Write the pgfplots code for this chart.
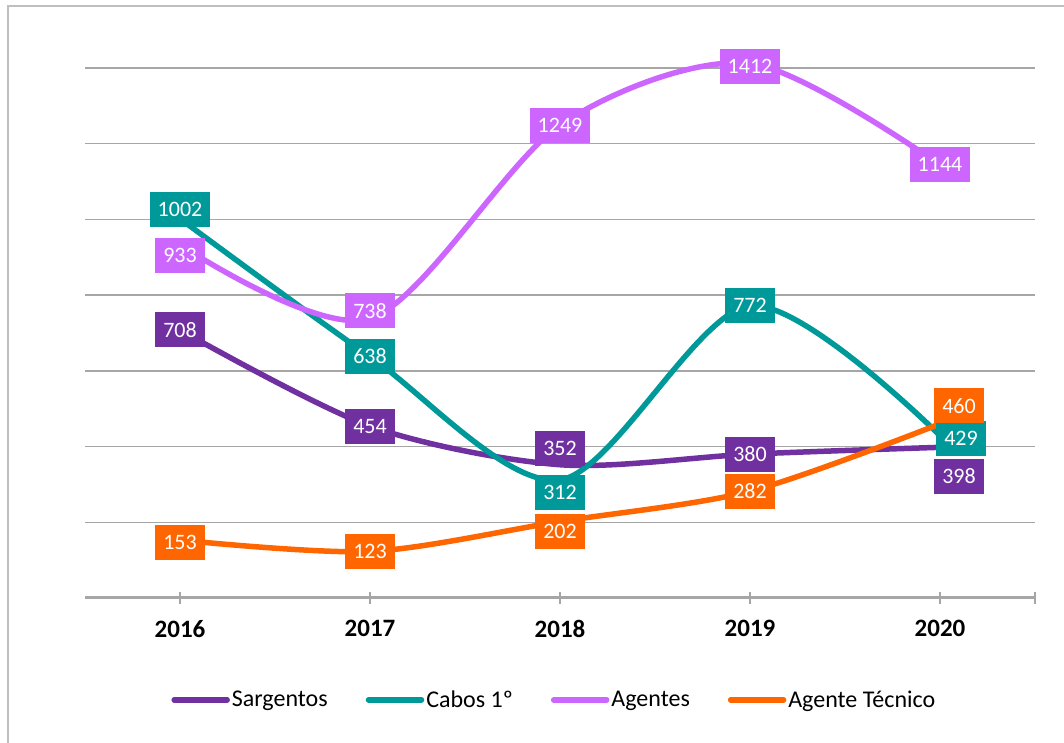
\documentclass[border=0pt]{standalone}
\usepackage{pgfplots}
\usepackage{pgfplotstable}
\pgfplotsset{compat=1.18}
\usepackage{fontspec}
\setmainfont{Carlito}
\definecolor{cSarg}{HTML}{7030A0}
\definecolor{cCabo}{HTML}{009999}
\definecolor{cAgen}{HTML}{CC66FF}
\definecolor{cTec}{HTML}{FF6600}
\definecolor{cGrid}{HTML}{A6A6A6}
\definecolor{cFrame}{HTML}{BFBFBF}

\pgfplotstableread{
x y dx dy
0 708 0 0
1 454 0 0
2 352 0 16
3 380 0 0
4 398 19 -29
}\sarg
\pgfplotstableread{
x y dx dy
0 1002 0 9
1 638 0 0
2 312 0 -13
3 772 0 0
4 429 21 -3
}\cabo
\pgfplotstableread{
x y dx dy
0 933 0 -11
1 738 0 8
2 1249 0 0
3 1412 0 -3
4 1144 0 0
}\agen
\pgfplotstableread{
x y dx dy
0 153 0 -2
1 123 0 0
2 202 0 -10
3 282 0 0
4 460 19 18
}\tecn

\pgfplotsset{
  lab/.style={
    draw=none, mark=none, forget plot,
    nodes near coords, nodes near coords align=center,
    point meta=explicit symbolic,
    visualization depends on={\thisrow{dx}\as\labdx},
    visualization depends on={\thisrow{dy}\as\labdy},
    every node near coord/.append style={
      fill=#1, text=white, font=\fontsize{22}{26}\selectfont,
      inner xsep=8pt, inner ysep=0pt, minimum height=35pt,
      anchor=center, xshift=\labdx pt, yshift=\labdy pt},
  },
}

\begin{document}
\begin{tikzpicture}[x=1pt,y=1pt]
\useasboundingbox (0,0) rectangle (1064,743);
\draw[cFrame, line width=2pt] (7.5,-5) -- (7.5,736.5) -- (1070,736.5);
\begin{axis}[
  at={(85pt,145pt)}, anchor=south west,
  scale only axis, width=950pt, height=530pt,
  xmin=-0.5, xmax=4.5, ymin=0, ymax=1400,
  clip=false,
  axis x line*=bottom, axis y line*=left,
  x axis line style={cGrid, line width=3pt, -},
  y axis line style={draw=none},
  ytick={200,400,...,1400}, yticklabels={},
  ytick style={draw=none},
  ymajorgrids, major grid style={cGrid, line width=1.5pt},
  xtick={0,1,2,3,4},
  xticklabels={2016,2017,2018,2019,2020},
  extra x ticks={4.5}, extra x tick labels={},
  xtick align=center, major tick length=12pt,
  xtick style={cGrid, line width=2.5pt},
  xticklabel style={font=\fontsize{25}{30}\selectfont\bfseries, yshift=-13pt},
  legend columns=4,
  legend style={at={(0.494,-0.192)}, anchor=center, draw=none, fill=none,
    font=\fontsize{24}{28}\selectfont,
    /tikz/every even column/.append style={column sep=36pt},
    nodes={inner xsep=2pt}},
  legend image code/.code={\draw[#1, line width=5.5pt, line cap=round] (0pt,0pt) -- (53pt,0pt);},
]
\addplot[cSarg, line width=5.5pt, smooth] table[x=x,y=y] {\sarg};
\addlegendentry{Sargentos}
\addplot[cCabo, line width=5.5pt, smooth] table[x=x,y=y] {\cabo};
\addlegendentry{Cabos 1º}
\addplot[cAgen, line width=5.5pt, smooth] table[x=x,y=y] {\agen};
\addlegendentry{Agentes}
\addplot[cTec, line width=5.5pt, smooth] table[x=x,y=y] {\tecn};
\addlegendentry{Agente Técnico}

\addplot[lab=cSarg] table[x=x,y=y,meta=y] {\sarg};
\addplot[lab=cCabo] table[x=x,y=y,meta=y] {\cabo};
\addplot[lab=cAgen] table[x=x,y=y,meta=y] {\agen};
\addplot[lab=cTec] table[x=x,y=y,meta=y] {\tecn};
\end{axis}
\end{tikzpicture}
\end{document}
